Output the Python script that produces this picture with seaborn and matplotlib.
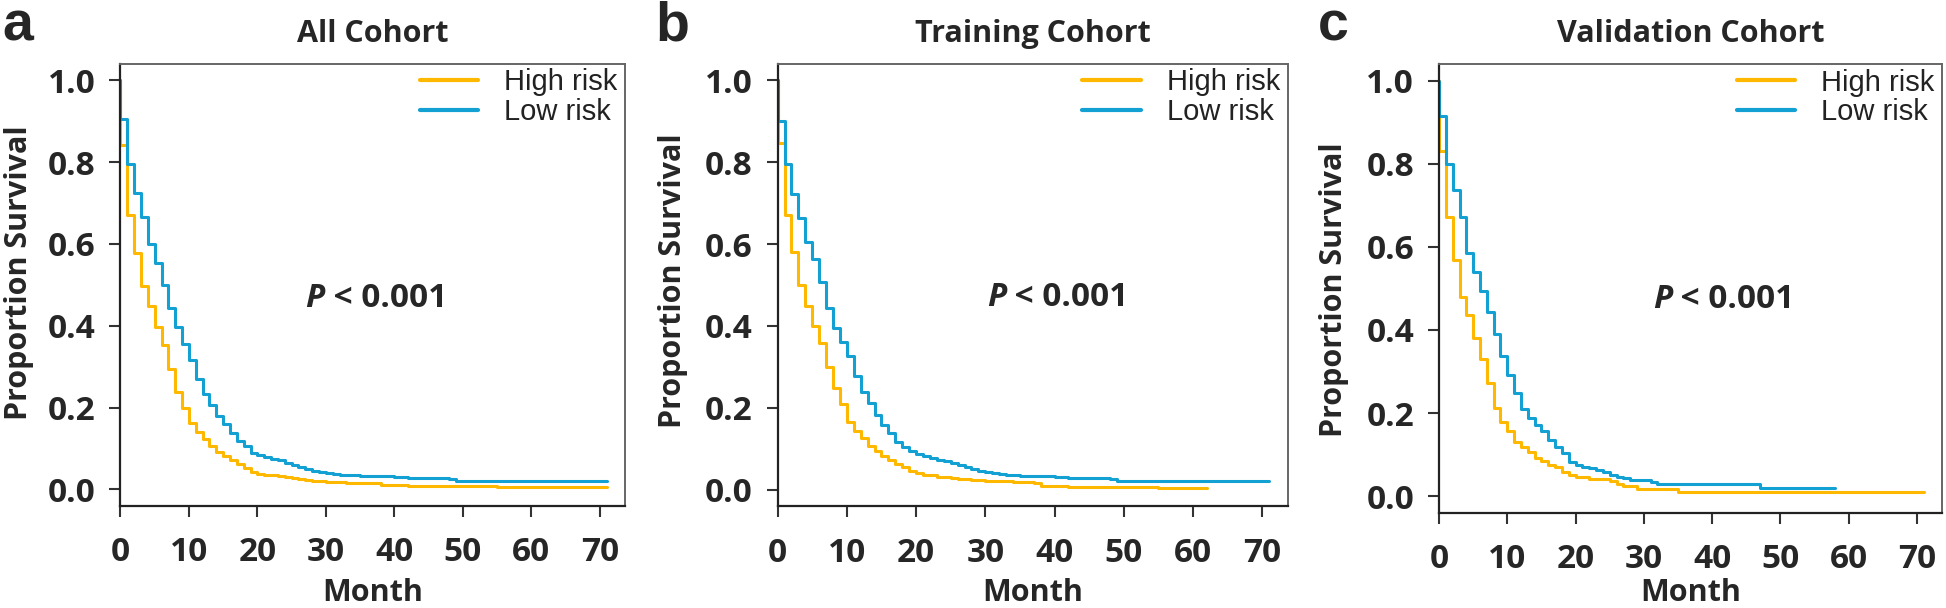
import pandas as pd
import seaborn as sns
import matplotlib.pyplot as plt

# Kaplan-Meier step curves (month, survival)
a_high_t = [0, 0, 1, 2, 3, 4, 5, 6, 7, 8, 9, 10, 11, 12, 13, 14, 15, 16, 17, 18, 19, 20,
            21, 22, 23, 24, 25, 26, 27, 28, 30, 33, 36, 38, 42, 55, 71]
a_high_s = [1.0, 0.842, 0.671, 0.579, 0.496, 0.447, 0.398, 0.353, 0.295, 0.239, 0.200, 0.163,
            0.139, 0.122, 0.106, 0.092, 0.081, 0.071, 0.063, 0.053, 0.043, 0.038,
            0.036, 0.034, 0.032, 0.030, 0.027, 0.024, 0.022, 0.020, 0.018, 0.016, 0.015,
            0.011, 0.008, 0.006, 0.006]
a_low_t = [0, 0, 1, 2, 3, 4, 5, 6, 7, 8, 9, 10, 11, 12, 13, 14, 15, 16, 17, 18, 19, 20,
           21, 22, 23, 24, 25, 26, 27, 28, 29, 30, 31, 32, 33, 35, 40, 42, 48, 49, 71]
a_low_s = [1.0, 0.905, 0.795, 0.724, 0.665, 0.599, 0.554, 0.500, 0.443, 0.396, 0.355, 0.316,
           0.269, 0.234, 0.205, 0.179, 0.159, 0.138, 0.118, 0.105, 0.090, 0.085,
           0.080, 0.075, 0.071, 0.065, 0.059, 0.054, 0.050, 0.046, 0.043, 0.040,
           0.038, 0.036, 0.035, 0.033, 0.030, 0.028, 0.024, 0.021, 0.021]

b_high_t = [0, 0, 1, 2, 3, 4, 5, 6, 7, 8, 9, 10, 11, 12, 13, 14, 15, 16, 17, 18, 19, 20,
            21, 23, 25, 26, 28, 30, 34, 37, 38, 42, 55, 62]
b_high_s = [1.0, 0.847, 0.670, 0.581, 0.500, 0.448, 0.400, 0.359, 0.300, 0.248, 0.208, 0.166,
            0.143, 0.125, 0.106, 0.094, 0.081, 0.072, 0.063, 0.055, 0.046, 0.040,
            0.035, 0.031, 0.028, 0.025, 0.023, 0.020, 0.018, 0.015, 0.010, 0.007, 0.004, 0.004]
b_low_t = [0, 0, 1, 2, 3, 4, 5, 6, 7, 8, 9, 10, 11, 12, 13, 14, 15, 16, 17, 18, 19, 20,
           21, 22, 23, 24, 25, 26, 27, 28, 29, 30, 31, 32, 33, 35, 40, 42, 48, 49, 71]
b_low_s = [1.0, 0.901, 0.795, 0.722, 0.664, 0.606, 0.563, 0.508, 0.443, 0.396, 0.360, 0.326,
           0.277, 0.239, 0.212, 0.182, 0.158, 0.138, 0.116, 0.104, 0.094, 0.088,
           0.083, 0.078, 0.073, 0.070, 0.064, 0.059, 0.055, 0.050, 0.046, 0.043,
           0.041, 0.037, 0.036, 0.033, 0.030, 0.028, 0.025, 0.021, 0.021]

c_high_t = [0, 0, 1, 2, 3, 4, 5, 6, 7, 8, 9, 10, 11, 12, 13, 14, 15, 16, 17, 18, 19, 20,
            22, 25, 26, 27, 29, 35, 71]
c_high_s = [1.0, 0.831, 0.671, 0.568, 0.480, 0.436, 0.381, 0.330, 0.273, 0.212, 0.178, 0.157,
            0.131, 0.118, 0.107, 0.092, 0.084, 0.075, 0.070, 0.059, 0.051, 0.045,
            0.040, 0.036, 0.030, 0.025, 0.018, 0.011, 0.011]
c_low_t = [0, 0, 1, 2, 3, 4, 5, 6, 7, 8, 9, 10, 11, 12, 13, 14, 15, 16, 17, 18, 19, 20,
           21, 22, 23, 24, 25, 26, 27, 28, 31, 32, 47, 58]
c_low_s = [1.0, 0.916, 0.800, 0.736, 0.671, 0.585, 0.540, 0.494, 0.443, 0.389, 0.338, 0.291,
           0.248, 0.210, 0.187, 0.172, 0.157, 0.134, 0.118, 0.104, 0.081, 0.076,
           0.071, 0.067, 0.063, 0.057, 0.052, 0.047, 0.044, 0.038, 0.034, 0.030, 0.020, 0.020]

panel_letters = ['a', 'b', 'c']
titles = ['All Cohort', 'Training Cohort', 'Validation Cohort']
groups = ['High risk', 'Low risk']
colors = {'High risk': '#FFB800', 'Low risk': '#13A0D2'}
x_ticks = [0, 10, 20, 30, 40, 50, 60, 70]
y_ticks = [0.0, 0.2, 0.4, 0.6, 0.8, 1.0]
p_text = '< 0.001'

sns.set_theme(style='white')
plt.rcParams['font.family'] = ['Open Sans', 'DejaVu Sans']
plt.rcParams['font.weight'] = 'bold'

fig = plt.figure(figsize=(19.46, 6.08), dpi=100)
rects = [[0.0619, 0.1683, 0.2593, 0.7265],
         [0.3996, 0.1678, 0.2622, 0.7270],
         [0.7395, 0.1567, 0.2585, 0.7380]]
p_pos = [(0.366, 0.469), (0.410, 0.472), (0.425, 0.476)]
ylab_x = [-0.171, -0.176, -0.179]
ylab_y = [0.528, 0.510, 0.497]
xlab_y = [-0.216, -0.216, -0.197]
letter_x = [0.001, 0.337, 0.677]

curves = [(a_high_t, a_high_s, a_low_t, a_low_s),
          (b_high_t, b_high_s, b_low_t, b_low_s),
          (c_high_t, c_high_s, c_low_t, c_low_s)]

for i, (ht, hs, lt, ls) in enumerate(curves):
    ax = fig.add_axes(rects[i])
    df = pd.DataFrame({
        'Month': ht + lt,
        'Survival': hs + ls,
        'Group': ['High risk'] * len(ht) + ['Low risk'] * len(lt),
    })
    sns.lineplot(data=df, x='Month', y='Survival', hue='Group', hue_order=groups,
                 palette=colors, estimator=None, sort=False, drawstyle='steps-post',
                 lw=2.2, ax=ax, legend=False)
    ax.set_xlim(0, 73.7)
    ax.set_ylim(-0.04, 1.04)
    ax.set_xticks(x_ticks)
    ax.set_yticks(y_ticks)
    ax.set_xticklabels([str(v) for v in x_ticks])
    ax.set_yticklabels(['%.1f' % v for v in y_ticks])
    ax.tick_params(axis='both', which='major', direction='out', length=8, width=1.5,
                   color='#333333', labelsize=24, bottom=True, left=True)
    ax.tick_params(axis='x', pad=14)
    ax.tick_params(axis='y', pad=10)
    for lab in ax.get_xticklabels() + ax.get_yticklabels():
        lab.set_fontweight('bold')
    for side in ['left', 'bottom']:
        ax.spines[side].set_color('#222222')
        ax.spines[side].set_linewidth(1.6)
    for side in ['top', 'right']:
        ax.spines[side].set_color('#666666')
        ax.spines[side].set_linewidth(1.4)

    ax.set_xlabel('Month', fontsize=22, fontweight='bold')
    ax.xaxis.set_label_coords(0.5, xlab_y[i])
    ax.xaxis.label.set_va('baseline')
    ax.set_ylabel('Proportion Survival', fontsize=22, fontweight='bold')
    ax.yaxis.set_label_coords(ylab_x[i], ylab_y[i])
    ax.set_title(titles[i], fontsize=22, fontweight='bold', pad=16)

    leg = ax.legend(ax.get_lines()[:2], groups, loc='upper right',
                    bbox_to_anchor=(0.985, 0.99), frameon=False, borderpad=0,
                    borderaxespad=0, handlelength=2.0, handletextpad=0.9,
                    labelspacing=0.05,
                    prop={'family': ['Liberation Sans', 'DejaVu Sans'],
                          'size': 21, 'weight': 'normal'})
    for t in leg.get_texts():
        t.set_color('#222222')
    for h in leg.get_lines():
        h.set_linewidth(3)

    px, py = p_pos[i]
    p_art = ax.text(px, py, 'P', transform=ax.transAxes, fontsize=24,
                    fontweight='bold', fontstyle='italic', ha='left', va='center')
    ax.annotate(' ' + p_text, xy=(1, 0), xycoords=p_art, ha='left', va='bottom',
                fontsize=24, fontweight='bold')

    fig.text(letter_x[i], 0.934, panel_letters[i], fontsize=40, fontweight='bold',
             family=['Liberation Sans', 'DejaVu Sans'], ha='left', va='baseline')

fig.savefig('out.png', dpi=100)
